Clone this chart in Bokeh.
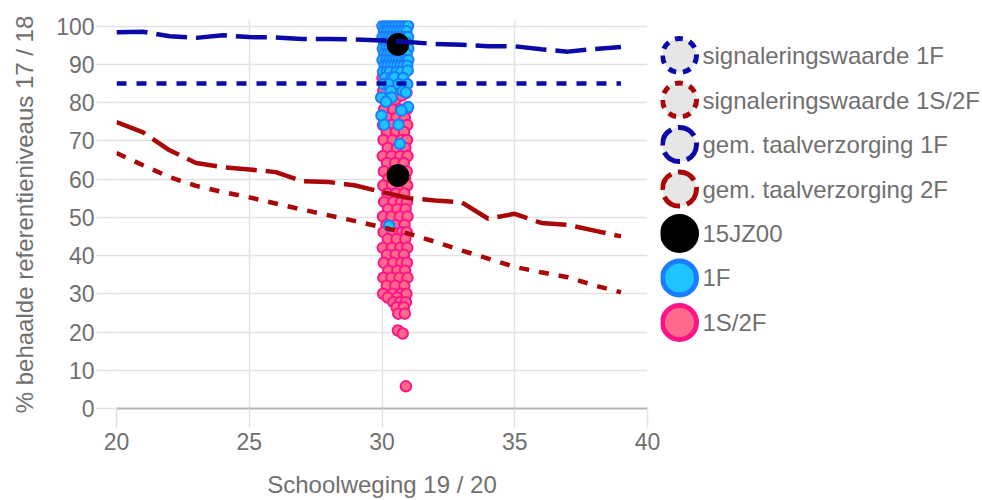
from bokeh.plotting import figure
from bokeh.models import Range1d, FixedTicker
from bokeh.layouts import row
from bokeh.embed import file_html
from bokeh.resources import INLINE
from bokeh.core.properties import value

# ---------------- data ----------------
schoolweging = [20, 21, 22, 23, 24, 25, 26, 27, 28, 29,
                30, 31, 32, 33, 34, 35, 36, 37, 38, 39]
sig_1f = [85, 85, 85, 85, 85, 85, 85, 85, 85, 85,
          85, 85, 85, 85, 85, 85, 85, 85, 85, 85]
sig_2f = [66.8, 63.6, 60.5, 58.2, 56.6, 55.2, 53.6, 52.0, 50.5, 49.0,
          47.4, 45.7, 43.6, 41.3, 39.2, 37.0, 35.6, 34.3, 32.2, 30.4]
gem_1f = [98.4, 98.5, 97.3, 96.9, 97.6, 97.1, 97.0, 96.6, 96.6, 96.5,
          96.2, 95.8, 95.3, 95.1, 94.7, 94.7, 93.9, 93.3, 94.0, 94.5]
gem_2f = [74.9, 72.2, 67.5, 64.2, 63.1, 62.5, 61.8, 59.4, 59.2, 58.3,
          56.6, 55.0, 54.4, 53.9, 49.6, 50.9, 48.5, 48.0, 46.5, 45.0]

school_x = [30.6, 30.6]
school_y = [95.2, 60.9]

f1_x = [30.02, 30.14, 30.26, 30.38, 30.50, 30.62, 30.74, 30.86, 30.98,
        30.08, 30.20, 30.32, 30.44, 30.56, 30.68, 30.80, 30.92,
        30.02, 30.14, 30.26, 30.38, 30.50, 30.62, 30.74, 30.86, 30.98,
        30.08, 30.20, 30.32, 30.44, 30.56, 30.68, 30.80, 30.92,
        30.03, 30.15, 30.27, 30.39, 30.51, 30.63, 30.75, 30.87, 30.99,
        30.09, 30.21, 30.33, 30.45, 30.57, 30.69, 30.81, 30.93,
        30.02, 30.16, 30.28, 30.40, 30.52, 30.64, 30.76, 30.88, 30.99,
        30.10, 30.22, 30.34, 30.46, 30.58, 30.70, 30.82, 30.95,
        30.04, 30.18, 30.30, 30.55, 30.72, 30.97,
        30.12, 30.36, 30.47, 30.80,
        30.06, 30.25, 30.62, 30.95,
        30.33, 30.78, 30.90,
        29.97, 30.36, 30.15,
        30.98, 30.73, 29.98, 30.08, 30.62, 30.67, 30.27]
f1_y = [100, 100, 100, 100, 100, 100, 100, 100, 100,
        98.6, 98.6, 98.6, 98.6, 98.6, 98.6, 98.6, 98.6,
        97.1, 97.1, 97.1, 97.1, 97.1, 97.1, 97.1, 97.1, 97.1,
        95.6, 95.6, 95.6, 95.6, 95.6, 95.6, 95.6, 95.6,
        94.1, 94.1, 94.1, 94.1, 94.1, 94.1, 94.1, 94.1, 94.1,
        92.6, 92.6, 92.6, 92.6, 92.6, 92.6, 92.6, 92.6,
        91.1, 91.1, 91.1, 91.1, 91.1, 91.1, 91.1, 91.1, 91.1,
        89.6, 89.6, 89.6, 89.6, 89.6, 89.6, 89.6, 89.6,
        88.0, 88.0, 88.0, 88.0, 88.0, 88.4,
        86.4, 86.4, 86.6, 86.4,
        84.8, 84.8, 84.8, 84.8,
        83.0, 83.0, 82.6,
        81.3, 81.3, 80.2,
        78.8, 77.9, 76.6, 74.2, 74.2, 69.2, 47.8]

f2_x = [30.08, 30.42, 30.71, 30.93,
        30.21, 30.55, 30.86,
        30.04, 30.37, 30.68, 30.95,
        30.18, 30.52, 30.83,
        30.06, 30.40, 30.73, 30.94,
        30.22, 30.57, 30.88,
        30.03, 30.36, 30.69, 30.96,
        30.19, 30.50, 30.82,
        30.07, 30.41, 30.74, 30.93,
        30.24, 30.56, 30.87,
        30.05, 30.38, 30.70, 30.95,
        30.20, 30.53, 30.84,
        30.08, 30.43, 30.72, 30.94,
        30.23, 30.58, 30.89,
        30.04, 30.35, 30.67, 30.96,
        30.17, 30.51, 30.85,
        30.06, 30.40, 30.75, 30.93,
        30.22, 30.55, 30.88,
        30.03, 30.37, 30.69, 30.95,
        30.19, 30.52, 30.83,
        30.07, 30.42, 30.73, 30.94,
        30.24, 30.58, 30.87,
        30.05, 30.36, 30.66, 30.96,
        30.18, 30.50, 30.84,
        30.04, 30.39, 30.71, 30.92,
        30.22, 30.57,
        30.43, 30.68, 30.90,
        30.55, 30.82,
        30.61, 30.86,
        30.60, 30.78, 30.90,
        30.02, 30.05, 30.92, 30.50, 30.75]
f2_y = [78.2, 78.2, 78.2, 78.2,
        76.0, 76.0, 76.0,
        74.1, 74.1, 74.1, 74.1,
        72.3, 72.3, 72.3,
        70.2, 70.2, 70.2, 70.2,
        68.1, 68.1, 68.1,
        66.0, 66.0, 66.0, 66.0,
        64.2, 64.2, 64.2,
        62.0, 62.0, 62.0, 62.0,
        60.1, 60.1, 60.1,
        58.3, 58.3, 58.3, 58.3,
        56.2, 56.2, 56.2,
        54.0, 54.0, 54.0, 54.0,
        52.1, 52.1, 52.1,
        50.2, 50.2, 50.2, 50.2,
        48.0, 48.0, 48.0,
        46.1, 46.1, 46.1, 46.1,
        44.3, 44.3, 44.3,
        42.0, 42.0, 42.0, 42.0,
        40.2, 40.2, 40.2,
        38.1, 38.1, 38.1, 38.1,
        36.0, 36.0, 36.0,
        34.2, 34.2, 34.2, 34.2,
        32.1, 32.1, 32.1,
        30.0, 30.0, 30.0, 30.0,
        29.0, 29.0,
        27.8, 27.8, 27.8,
        26.5, 26.5,
        24.8, 24.8,
        20.4, 19.6, 5.8,
        86.5, 83.0, 82.5, 80.8, 81.8]

x_ticks = [20, 25, 30, 35, 40]
y_ticks = [0, 10, 20, 30, 40, 50, 60, 70, 80, 90, 100]
x_title = "Schoolweging 19 / 20"
y_title = "% behaalde referentieniveaus 17 / 18"

legend_labels = ["signaleringswaarde 1F", "signaleringswaarde 1S/2F",
                 "gem. taalverzorging 1F", "gem. taalverzorging 2F",
                 "15JZ00", "1F", "1S/2F"]

# ---------------- styles ----------------
FONT = "Liberation Sans"
TXT = "#707070"
GRID = "#e2e2e2"
BLUE = "#0a0aa8"
RED = "#aa0808"
LIGHT = "#e6e6e6"
F1_FILL, F1_LINE = "#1ec4ff", "#1a7cff"
F2_FILL, F2_LINE = "#ff6a8c", "#ff1488"

H = 500
TOP, BOTTOM = 20, 92

p = figure(width=660, height=H, output_backend="svg", toolbar_location=None,
           x_range=Range1d(20, 40), y_range=Range1d(0, 101.44),
           min_border_left=116, min_border_right=13, min_border_top=TOP,
           min_border_bottom=BOTTOM,
           x_axis_label=x_title, y_axis_label=y_title)
p.outline_line_color = None
p.background_fill_color = "white"
p.border_fill_color = "white"

p.xaxis.ticker = FixedTicker(ticks=x_ticks)
p.yaxis.ticker = FixedTicker(ticks=y_ticks)
for g in (p.xgrid, p.ygrid):
    g.grid_line_color = GRID
    g.grid_line_width = 1.5

for ax in (p.xaxis, p.yaxis):
    ax.major_tick_line_color = GRID
    ax.major_tick_line_width = 1.5
    ax.major_tick_in = 0
    ax.minor_tick_line_color = None
    ax.major_label_text_font = FONT
    ax.major_label_text_font_size = "23px"
    ax.major_label_text_color = TXT
    ax.axis_label_text_font = FONT
    ax.axis_label_text_font_size = "24px"
    ax.axis_label_text_font_style = "normal"
    ax.axis_label_text_color = TXT

p.yaxis.axis_line_color = None
p.yaxis.major_tick_out = 20
p.yaxis.major_label_standoff = 2
p.yaxis.axis_label_standoff = 15
p.xaxis.axis_line_color = "#b4b4b4"
p.xaxis.axis_line_width = 2
p.xaxis.major_tick_out = 19
p.xaxis.major_label_standoff = 5
p.xaxis.axis_label_standoff = 18

# scatter points
p.scatter(f2_x, f2_y, size=10.5, fill_color=F2_FILL, line_color=F2_LINE, line_width=2)
p.scatter(f1_x, f1_y, size=10.5, fill_color=F1_FILL, line_color=F1_LINE, line_width=2)
p.scatter(school_x, school_y, size=22, fill_color="black", line_color="black")

# lines
p.line(schoolweging, sig_1f, line_color=BLUE, line_width=4.5, line_dash="10 10")
p.line(schoolweging, sig_2f, line_color=RED, line_width=4.5, line_dash="10 10")
p.line(schoolweging, gem_1f, line_color=BLUE, line_width=4.5, line_dash="31 9")
p.line(schoolweging, gem_2f, line_color=RED, line_width=4.5, line_dash="31 9")

# ---------------- legend panel ----------------
# frame spans the same rows as the main plot frame (388 px); 44.5 px per item
n = len(legend_labels)
idx = list(range(n))
leg = figure(width=321, height=H, output_backend="svg", toolbar_location=None,
             x_range=Range1d(0, 321), y_range=Range1d(7.933, -0.787),
             min_border_left=0, min_border_right=0,
             min_border_top=TOP, min_border_bottom=BOTTOM)
leg.axis.visible = False
leg.grid.visible = False
leg.outline_line_color = None

fills = [LIGHT, LIGHT, LIGHT, LIGHT, "black", F1_FILL, F2_FILL]
lines = [BLUE, RED, BLUE, RED, "black", F1_LINE, F2_LINE]
dashes = ["8 7", "8 7", "19 7", "19 7", "solid", "solid", "solid"]
for i in idx:
    leg.scatter([19], [i], size=34, fill_color=fills[i], line_color=lines[i],
                line_width=5, line_dash=dashes[i])
leg.text([42] * n, idx, text=legend_labels, text_font=value(FONT),
         text_font_size="24px", text_color=TXT, text_baseline="middle")

layout = row(p, leg)
open("out.html", "w").write(file_html(layout, INLINE))
